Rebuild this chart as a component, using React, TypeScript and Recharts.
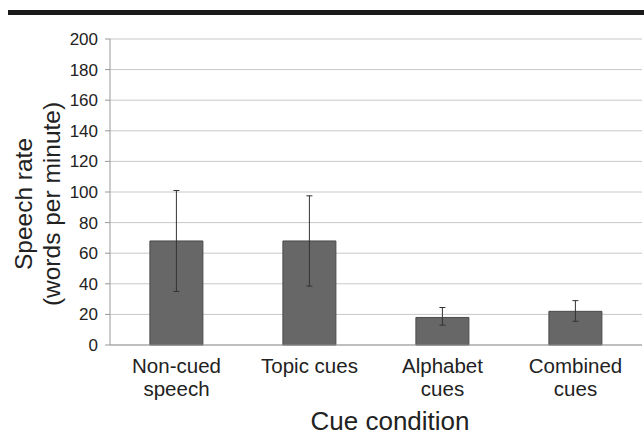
import React from "react";
import {
  BarChart,
  Bar,
  XAxis,
  YAxis,
  CartesianGrid,
  ErrorBar,
} from "recharts";

const categories = ["Non-cued speech", "Topic cues", "Alphabet cues", "Combined cues"];
const tickLines: string[][] = [
  ["Non-cued", "speech"],
  ["Topic cues"],
  ["Alphabet", "cues"],
  ["Combined", "cues"],
];
const means = [68, 68, 18, 22];
const lowBounds = [35, 38.5, 13, 15.5];
const highBounds = [101, 97.5, 24.5, 29];
const yTicks = [0, 20, 40, 60, 80, 100, 120, 140, 160, 180, 200];
const boundaryTicks = [0, 1, 2, 3, 4];

const data = categories.map((c, i) => ({
  name: c,
  idx: i,
  value: means[i],
  err: [means[i] - lowBounds[i], highBounds[i] - means[i]],
}));

const FONT = "'Liberation Sans', Arial, sans-serif";

const CatTick = (props: any) => {
  const { x, y, payload } = props;
  const lines = tickLines[payload.index] || [payload.value];
  return (
    <g>
      {lines.map((l, i) => (
        <text
          key={i}
          x={x}
          y={y + 19 + i * 23}
          textAnchor="middle"
          fontSize={20.5}
          fontFamily={FONT}
          fill="#222"
        >
          {l}
        </text>
      ))}
    </g>
  );
};

const YLabel = (props: any) => {
  const { viewBox } = props;
  const cy = viewBox.y + viewBox.height / 2 + 12;
  return (
    <g>
      <text
        transform={`translate(${32}, ${cy}) rotate(-90)`}
        textAnchor="middle"
        fontSize={24.5}
        fontFamily={FONT}
        fill="#222"
      >
        Speech rate
      </text>
      <text
        transform={`translate(${60}, ${cy}) rotate(-90)`}
        textAnchor="middle"
        fontSize={24.5}
        fontFamily={FONT}
        fill="#222"
      >
        (words per minute)
      </text>
    </g>
  );
};

const XLabel = (props: any) => {
  const { viewBox } = props;
  const cx = viewBox.x + viewBox.width / 2 + 14;
  return (
    <text
      x={cx}
      y={viewBox.y + 84}
      textAnchor="middle"
      fontSize={26}
      fontFamily={FONT}
      fill="#222"
    >
      Cue condition
    </text>
  );
};

export default function App() {
  return (
    <div style={{ position: "absolute", left: 0, top: 0, width: 644, height: 446, background: "#fff" }}>
      <div
        style={{
          position: "absolute",
          left: 8,
          top: 10,
          width: 636,
          height: 5,
          background: "#1a1a1a",
        }}
      />
      <BarChart
        width={644}
        height={446}
        data={data}
        margin={{ top: 39, right: 2, bottom: 0, left: 0 }}
        barCategoryGap="30%"
      >
        <CartesianGrid xAxisId="cat" vertical={false} stroke="#c8c8c8" strokeWidth={1} />
        <XAxis
          xAxisId="bnd"
          type="number"
          dataKey="idx"
          domain={[0, 4]}
          ticks={boundaryTicks}
          tick={false}
          tickLine={{ stroke: "#999" }}
          tickSize={5}
          axisLine={{ stroke: "#999" }}
          height={1}
          allowDataOverflow
        />
        <XAxis
          xAxisId="cat"
          dataKey="name"
          tick={<CatTick />}
          tickLine={false}
          axisLine={false}
          interval={0}
          height={100}
          label={<XLabel />}
        />
        <YAxis
          domain={[0, 200]}
          ticks={yTicks}
          width={110}
          tick={{ fontSize: 17, fontFamily: FONT, fill: "#222" }}
          tickLine={{ stroke: "#999" }}
          tickSize={5}
          tickMargin={7}
          axisLine={{ stroke: "#999" }}
          label={<YLabel />}
        />
        <YAxis
          yAxisId="right"
          orientation="right"
          domain={[0, 200]}
          width={0}
          tick={false}
          tickLine={false}
          axisLine={{ stroke: "#bbb" }}
        />
        <Bar
          xAxisId="cat"
          dataKey="value"
          fill="#676767"
          stroke="#4a4a4a"
          strokeWidth={1}
          isAnimationActive={false}
        >
          <ErrorBar dataKey="err" width={3} stroke="#333" strokeWidth={1} />
        </Bar>
      </BarChart>
    </div>
  );
}
